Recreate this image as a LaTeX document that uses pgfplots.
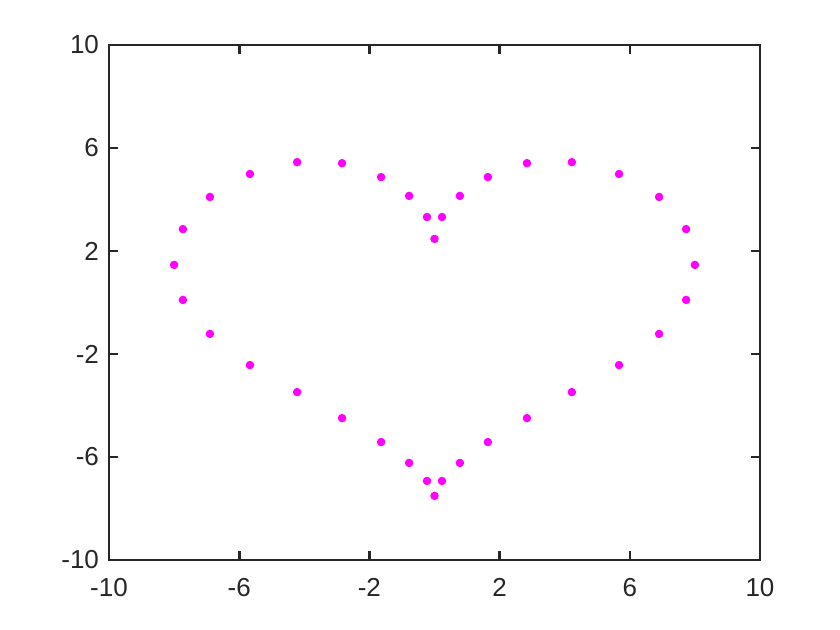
\documentclass[border=0pt]{standalone}
\usepackage{pgfplots}
\pgfplotsset{compat=1.18}
\usepackage{fontspec}
\setmainfont{Liberation Sans}
\definecolor{axgray}{rgb}{0.15,0.15,0.15}
\definecolor{ptmag}{rgb}{1,0,1}

\begin{document}
\begin{tikzpicture}
\begin{axis}[
    at={(0,0)}, anchor=south west,
    width=325.5pt, height=257.5pt, scale only axis,
    xmin=-10, xmax=10, ymin=-10, ymax=10,
    xtick={-10,-6,-2,2,6,10}, ytick={-10,-6,-2,2,6,10},
    tick align=inside, major tick length=4.5pt,
    axis line style={axgray, line width=1.3pt},
    every tick/.style={axgray, line width=1.3pt},
    tick label style={font=\fontsize{13}{15}\selectfont, text=axgray},
    /pgf/number format/assume math mode=true,
    xticklabel style={yshift=-5.5pt},
    yticklabel style={xshift=-1.5pt},
]
\addplot[only marks, mark=*, mark size=1.9pt, color=ptmag] coordinates {
(0,2.47) (0.23,3.32) (0.78,4.14) (1.64,4.87) (2.84,5.41) (4.22,5.45) (5.67,4.99)
(6.90,4.10) (7.73,2.85) (8.00,1.46) (7.73,0.10) (6.90,-1.22) (5.67,-2.43)
(4.22,-3.48) (2.84,-4.49) (1.64,-5.42) (0.78,-6.23) (0.23,-6.93) (0,-7.51)
(-0.23,-6.93) (-0.78,-6.23) (-1.64,-5.42) (-2.84,-4.49) (-4.22,-3.48)
(-5.67,-2.43) (-6.90,-1.22) (-7.73,0.10) (-8.00,1.46) (-7.73,2.85)
(-6.90,4.10) (-5.67,4.99) (-4.22,5.45) (-2.84,5.41) (-1.64,4.87)
(-0.78,4.14) (-0.23,3.32)
};
\end{axis}
\path[use as bounding box] (-54.5pt,-35pt) rectangle (365.5pt,280pt);
\end{tikzpicture}
\end{document}
